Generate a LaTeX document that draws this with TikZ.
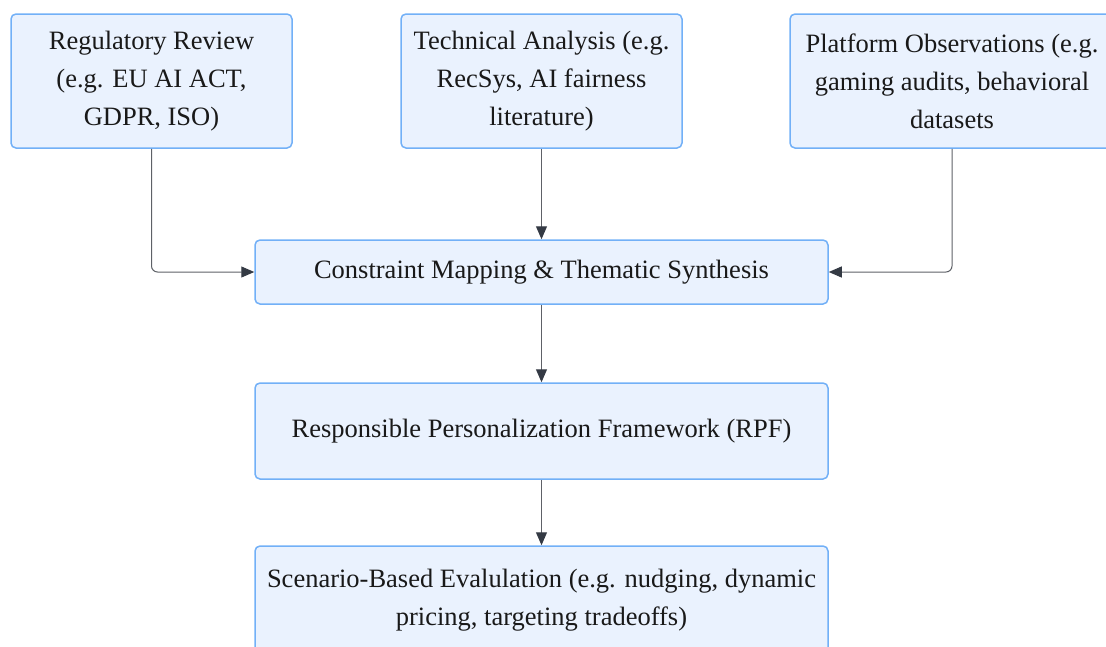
\documentclass[tikz,border=0pt]{standalone}
\usepackage{fontspec}
\setmainfont{Liberation Serif}
\usetikzlibrary{arrows.meta}
\definecolor{boxfill}{HTML}{EAF2FE}
\definecolor{boxline}{HTML}{72B0F7}
\definecolor{edgecol}{HTML}{5E6167}
\definecolor{tipcol}{HTML}{343A44}
\tikzset{
  box/.style={draw=boxline, fill=boxfill, line width=1.5pt, rounded corners=5pt, align=center, inner sep=0pt, font=\fontsize{26.5}{38}\selectfont, text=black!90},
  conn/.style={draw=edgecol, line width=1pt, rounded corners=6pt, -{Triangle[length=13pt,width=11pt,fill=tipcol,color=tipcol]}},
}
\begin{document}
\begin{tikzpicture}[x=1pt,y=-1pt]
\useasboundingbox (0,0) rectangle (1106,646);
\clip (0,0) rectangle (1106,646);
\node[box, minimum width=281pt, minimum height=134pt] (a) at (151.5,81) {Regulatory Review\\(e.g. EU AI ACT,\\GDPR, ISO)};
\node[box, minimum width=281pt, minimum height=134pt] (b) at (541.5,81) {Technical Analysis (e.g.\\RecSys, AI fairness\\literature)};
\node[box, minimum width=324pt, minimum height=134pt] (c) at (952,81) {Platform Observations (e.g.\\gaming audits, behavioral\\datasets};
\node[box, minimum width=573pt, minimum height=64pt] (d) at (541.5,272) {Constraint Mapping \& Thematic Synthesis};
\node[box, minimum width=573pt, minimum height=96pt] (e) at (541.5,431) {Responsible Personalization Framework (RPF)};
\node[box, minimum width=573pt, minimum height=108pt] (f) at (541.5,600) {Scenario-Based Evalulation (e.g. nudging, dynamic\\pricing, targeting tradeoffs)};
\draw[conn] (a.south) |- (d.west);
\draw[conn] (c.south) |- (d.east);
\draw[conn] (b.south) -- (d.north);
\draw[conn] (d.south) -- (e.north);
\draw[conn] (e.south) -- (f.north);
\end{tikzpicture}
\end{document}
